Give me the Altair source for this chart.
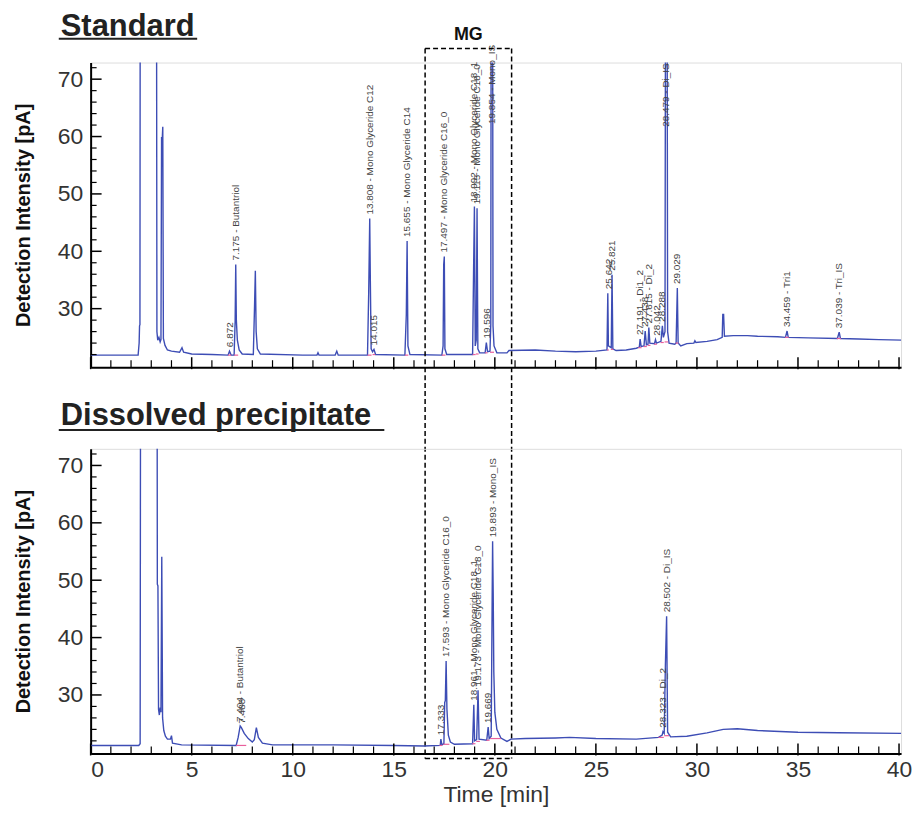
import altair as alt
import pandas as pd

# ---------------- data ----------------
# Standard chromatogram: retention time [min] and FID signal [pA]
top_time = [0.0, 2.35, 2.40, 2.42, 2.44, 2.46, 3.25, 3.28, 3.32, 3.38, 3.44, 3.48, 3.51, 3.53, 3.57, 3.60,
            3.68, 3.80, 4.00, 4.40, 4.52, 4.60, 5.00, 6.00, 6.80, 6.87, 6.95, 7.10, 7.15, 7.18, 7.21, 7.26,
            7.35, 7.50, 8.05, 8.11, 8.15, 8.19, 8.25, 8.40, 10.50, 11.20, 11.25, 11.30, 12.10, 12.18, 12.25,
            13.70, 13.76, 13.81, 13.84, 13.88, 13.95, 14.02, 14.10, 15.55, 15.62, 15.66, 15.70, 15.80,
            17.38, 17.44, 17.47, 17.50, 17.53, 17.62, 18.90, 18.95, 18.99, 19.03, 19.08, 19.12, 19.16, 19.25,
            19.52, 19.58, 19.64, 19.76, 19.80, 19.83, 19.88, 19.91, 19.96, 20.10, 20.60, 20.70, 22.00, 23.00,
            24.00, 25.00, 25.55, 25.59, 25.62, 25.76, 25.80, 25.84, 26.00, 26.50, 27.00, 27.15, 27.19, 27.24,
            27.38, 27.44, 27.50, 27.58, 27.62, 27.67, 27.90, 27.95, 28.00, 28.22, 28.29, 28.34, 28.42, 28.46,
            28.51, 28.55, 28.62, 28.90, 28.97, 29.03, 29.07, 29.20, 29.50, 29.85, 29.90, 29.95, 30.50, 31.00,
            31.25, 31.28, 31.32, 31.36, 31.80, 32.50, 33.00, 34.00, 34.38, 34.46, 34.52, 35.50, 36.95, 37.04,
            37.10, 38.00, 39.00, 40.50]
top_signal = [21.9, 21.9, 24.0, 27.0, 27.2, 120.0, 120.0, 26.0, 24.5, 25.0, 24.2, 24.6, 59.9, 58.5, 61.7, 24.8,
              23.6, 22.8, 22.6, 22.4, 23.2, 22.4, 22.1, 22.0, 21.9, 22.6, 21.9, 21.9, 27.8, 37.7, 28.0, 24.5,
              22.8, 22.1, 22.0, 30.4, 36.6, 26.0, 23.0, 22.1, 21.9, 21.9, 22.3, 21.9, 21.9, 22.6, 21.9,
              21.9, 33.0, 45.7, 34.8, 23.0, 22.5, 22.9, 22.0, 21.9, 29.0, 41.8, 23.5, 22.0,
              21.9, 23.5, 37.7, 39.1, 23.0, 22.0, 22.0, 37.1, 47.8, 23.5, 24.5, 47.5, 23.0, 22.3,
              22.3, 24.1, 22.5, 22.6, 27.3, 120.0, 120.0, 27.0, 23.5, 22.3, 22.3, 22.7, 22.8, 22.6,
              22.5, 22.6, 22.8, 32.7, 23.5, 23.2, 35.9, 23.0, 22.7, 22.8, 23.1, 23.3, 24.7, 23.4,
              23.5, 26.1, 23.7, 23.8, 26.7, 24.0, 23.9, 24.6, 24.0, 24.3, 27.0, 25.0, 26.0, 120.0,
              120.0, 26.0, 24.0, 23.8, 24.0, 33.6, 24.0, 23.5, 23.9, 24.0, 24.4, 24.1, 24.3, 24.6,
              25.0, 29.0, 29.0, 25.2, 25.3, 25.3, 25.2, 25.1, 25.0, 26.1, 25.0, 24.9, 24.8, 25.9,
              24.8, 24.7, 24.6, 24.5]

# Dissolved precipitate chromatogram
bot_time = [0.0, 2.38, 2.45, 2.48, 3.28, 3.30, 3.33, 3.36, 3.40, 3.44, 3.48, 3.52, 3.56, 3.62, 3.70, 3.80,
            3.95, 4.00, 4.05, 4.50, 7.20, 7.30, 7.40, 7.46, 7.60, 7.80, 8.00, 8.10, 8.20, 8.30, 8.50, 9.00,
            12.00, 15.00, 16.50, 17.30, 17.33, 17.38, 17.48, 17.52, 17.55, 17.59, 17.63, 17.70, 17.80, 18.00,
            18.90, 18.96, 19.00, 19.10, 19.17, 19.22, 19.60, 19.67, 19.72, 19.82, 19.87, 19.89, 19.92, 19.95,
            20.00, 20.10, 20.30, 20.60, 20.80, 21.50, 23.00, 23.70, 25.00, 27.00, 28.10, 28.28, 28.32, 28.38,
            28.44, 28.50, 28.55, 28.70, 29.50, 30.50, 31.30, 32.00, 33.00, 35.00, 37.00, 40.50]
bot_signal = [21.2, 21.2, 21.5, 120.0, 120.0, 49.3, 49.0, 27.5, 26.5, 27.8, 27.0, 54.1, 26.0, 23.8, 22.8, 22.3,
              22.3, 22.9, 21.6, 21.3, 21.2, 22.6, 24.6, 24.3, 23.3, 22.4, 21.8, 22.2, 24.3, 22.6, 21.6, 21.3,
              21.3, 21.2, 21.1, 21.2, 22.3, 21.3, 21.5, 28.7, 29.0, 35.9, 27.5, 23.0, 21.8, 21.4,
              21.5, 28.3, 22.0, 22.2, 30.8, 22.3, 22.1, 24.4, 22.4, 22.8, 47.9, 56.8, 47.5, 34.0,
              27.0, 24.0, 22.5, 21.9, 22.3, 22.4, 22.5, 22.6, 22.4, 22.3, 22.6, 23.0, 23.6, 23.3,
              35.3, 43.7, 23.5, 22.7, 22.8, 23.4, 24.0, 24.1, 23.8, 23.5, 23.4, 23.3]

# Peak annotations (retention time, anchor value, text)
top_label_time = [6.872, 7.175, 13.808, 14.015, 15.655, 17.497, 18.992, 19.115, 19.596, 19.854,
                  25.642, 25.821, 27.191, 27.438, 27.615, 28.042, 28.288, 28.479, 29.029, 34.459, 37.039]
top_label_value = [22.6, 37.7, 45.7, 22.9, 41.8, 39.1, 47.8, 47.5, 24.1, 61.5,
                   32.7, 35.9, 24.7, 26.1, 26.7, 24.6, 27.0, 61.0, 33.6, 26.1, 25.9]
top_label_text = ["6.872", "7.175 - Butantriol", "13.808 - Mono Glyceride C12", "14.015",
                  "15.655 - Mono Glyceride C14", "17.497 - Mono Glyceride C16_0",
                  "18.992 - Mono Glyceride C18_1", "19.115 - Mono Glyceride C18_0", "19.596",
                  "19.854 - Mono_IS", "25.642", "25.821", "27.191 - Di1_2", "27.438", "27.615 - Di_2",
                  "28.042", "28.288", "28.479 - Di_IS", "29.029", "34.459 - Tri1", "37.039 - Tri_IS"]

bot_label_time = [7.404, 7.488, 17.333, 17.593, 18.961, 19.173, 19.669, 19.893, 28.323, 28.502]
bot_label_value = [24.6, 24.3, 22.3, 35.9, 28.3, 30.8, 24.4, 56.8, 23.6, 43.7]
bot_label_text = ["7.404 - Butantriol", "7.488", "17.333", "17.593 - Mono Glyceride C16_0",
                  "18.961 - Mono Glyceride C18_1", "19.173 - Mono Glyceride C18_0", "19.669",
                  "19.893 - Mono_IS", "28.323 - Di_2", "28.502 - Di_IS"]

# Integration baselines (pink) under the labelled peaks: start, end, level
top_base_start = [6.80, 7.10, 13.70, 13.95, 15.55, 17.38, 18.90, 19.06, 19.52, 19.76, 25.55, 25.74,
                  27.10, 27.36, 27.56, 27.88, 28.20, 28.40, 28.95, 34.36, 36.92]
top_base_end = [6.95, 7.30, 13.90, 14.08, 15.72, 17.56, 19.05, 19.20, 19.64, 19.96, 25.64, 25.86,
                27.26, 27.52, 27.70, 28.02, 28.36, 28.58, 29.08, 34.54, 37.12]
top_base_level = [21.9, 21.9, 21.9, 22.0, 21.9, 21.9, 22.0, 22.1, 22.3, 22.4, 22.8, 22.9,
                  23.2, 23.4, 23.6, 23.8, 24.1, 24.2, 24.0, 25.0, 24.8]
bot_base_start = [7.20, 17.26, 17.45, 18.88, 19.08, 19.58, 19.76, 28.10, 28.38]
bot_base_end = [7.70, 17.40, 17.75, 19.04, 19.26, 19.74, 20.30, 28.36, 28.62]
bot_base_level = [21.2, 21.2, 21.4, 21.5, 21.9, 22.1, 22.4, 22.6, 22.9]

# Axis ticks
x_major = [0, 5, 10, 15, 20, 25, 30, 35, 40]
x_minor = [i for i in range(0, 41) if i % 5 != 0]
y_major = [30, 40, 50, 60, 70]
y_minor = [22, 24, 26, 28, 32, 34, 36, 38, 42, 44, 46, 48, 52, 54, 56, 58, 62, 64, 66, 68, 72]

# MG region (dashed box) in minutes
mg_range = [16.55, 20.83]

# ---------------- styling ----------------
X_DOMAIN = [0, 40.1]
Y_DOMAIN = [19.8, 72.9]
W, H = 814, 306
GAP = 82
BLUE = "#3d4db5"
PINK = "#e8609c"
FONT = "Liberation Sans"

xscale = alt.Scale(domain=X_DOMAIN, nice=False, zero=False)
yscale = alt.Scale(domain=Y_DOMAIN, nice=False, zero=False)


def panel(time, signal, lt, lv, ltext, bs, be, bl, bottom, title, title_y, underline_y,
          underline_end, with_box):
    df = pd.DataFrame({"t": time, "v": signal})
    if bottom:
        xaxis = alt.Axis(values=x_major, ticks=False, grid=False, domainColor="black", domainWidth=2,
                         labelFontSize=23, labelColor="#333", labelFont=FONT, labelPadding=5,
                         title="Time [min]", titleFontSize=23, titleFontWeight="normal",
                         titleColor="#333", titleFont=FONT, titlePadding=2)
    else:
        xaxis = alt.Axis(values=x_major, ticks=False, grid=False, domainColor="black", domainWidth=2,
                         labels=False, title=None)
    yaxis = alt.Axis(values=y_major, ticks=False, grid=False, domainColor="black", domainWidth=2,
                     labelFontSize=23, labelColor="#333", labelFont=FONT, labelPadding=8,
                     title="Detection Intensity [pA]", titleFontSize=20, titleFontWeight="bold",
                     titleColor="#111", titleFont=FONT, titlePadding=24)

    def X(f):
        return alt.X(f, scale=xscale, axis=xaxis)

    def Y(f):
        return alt.Y(f, scale=yscale, axis=yaxis)

    line = alt.Chart(df).mark_line(color=BLUE, strokeWidth=1.4, clip=True).encode(
        x=X("t:Q"), y=Y("v:Q"))

    base = alt.Chart(pd.DataFrame({"a": bs, "b": be, "v": bl})).mark_rule(
        color=PINK, strokeWidth=1.2).encode(x=X("a:Q"), x2="b:Q", y=Y("v:Q"))

    labels = alt.Chart(pd.DataFrame({"t": lt, "v": lv, "s": ltext})).mark_text(
        angle=270, align="left", baseline="middle", dx=4, fontSize=10, color="#444", font=FONT
    ).encode(x=X("t:Q"), y=Y("v:Q"), text="s:N")

    ymaj = alt.Chart(pd.DataFrame({"v": y_major})).mark_rule(color="black", strokeWidth=1.5).encode(
        y=Y("v:Q"), x=alt.value(0), x2=alt.value(11))
    ymin = alt.Chart(pd.DataFrame({"v": y_minor})).mark_rule(color="black", strokeWidth=1.2).encode(
        y=Y("v:Q"), x=alt.value(0), x2=alt.value(6))
    xmaj = alt.Chart(pd.DataFrame({"t": x_major})).mark_rule(color="black", strokeWidth=1.5).encode(
        x=X("t:Q"), y=alt.value(H - 10), y2=alt.value(H + 2))
    xmin = alt.Chart(pd.DataFrame({"t": x_minor})).mark_rule(color="black", strokeWidth=1.2).encode(
        x=X("t:Q"), y=alt.value(H - 7), y2=alt.value(H))

    ttl = alt.Chart(pd.DataFrame({"s": [title]})).mark_text(
        align="left", baseline="alphabetic", fontSize=31, fontWeight="bold", color="#222", font=FONT
    ).encode(x=alt.value(-30), y=alt.value(title_y), text="s:N")
    uline = alt.Chart(pd.DataFrame({"s": [title]})).mark_rule(color="#222", strokeWidth=2).encode(
        x=alt.value(-32), x2=alt.value(underline_end), y=alt.value(underline_y))

    layers = [line, base, ymaj, ymin, xmaj, xmin, labels, ttl, uline]

    if with_box:
        box = pd.DataFrame({"t": mg_range})
        edge = pd.DataFrame({"a": [mg_range[0]], "b": [mg_range[1]]})
        dash = dict(color="black", strokeWidth=1.5, strokeDash=[5, 3])
        vlines = alt.Chart(box).mark_rule(**dash).encode(
            x=X("t:Q"), y=alt.value(-14), y2=alt.value(H + GAP + H + 5))
        htop = alt.Chart(edge).mark_rule(**dash).encode(
            x=X("a:Q"), x2="b:Q", y=alt.value(-14))
        hbot = alt.Chart(edge).mark_rule(**dash).encode(
            x=X("a:Q"), x2="b:Q", y=alt.value(H + GAP + H + 5))
        mg = alt.Chart(pd.DataFrame({"t": [sum(mg_range) / 2], "s": ["MG"]})).mark_text(
            fontSize=18, fontWeight="bold", color="#111", font=FONT, baseline="middle"
        ).encode(x=X("t:Q"), y=alt.value(-28), text="s:N")
        layers += [vlines, htop, hbot, mg]

    return alt.layer(*layers).properties(width=W, height=H)


top = panel(top_time, top_signal, top_label_time, top_label_value, top_label_text,
            top_base_start, top_base_end, top_base_level,
            False, "Standard", -27, -24, 107, True)
bottom = panel(bot_time, bot_signal, bot_label_time, bot_label_value, bot_label_text,
               bot_base_start, bot_base_end, bot_base_level,
               True, "Dissolved precipitate", -24, -19, 295, False)

chart = alt.vconcat(top, bottom, spacing=GAP, bounds="flush").properties(
    padding={"left": 4, "top": 0, "right": -1, "bottom": 0}
).configure_view(stroke=None).configure(font=FONT)

chart.save("out.html", embed_options={"renderer": "svg", "actions": False})
